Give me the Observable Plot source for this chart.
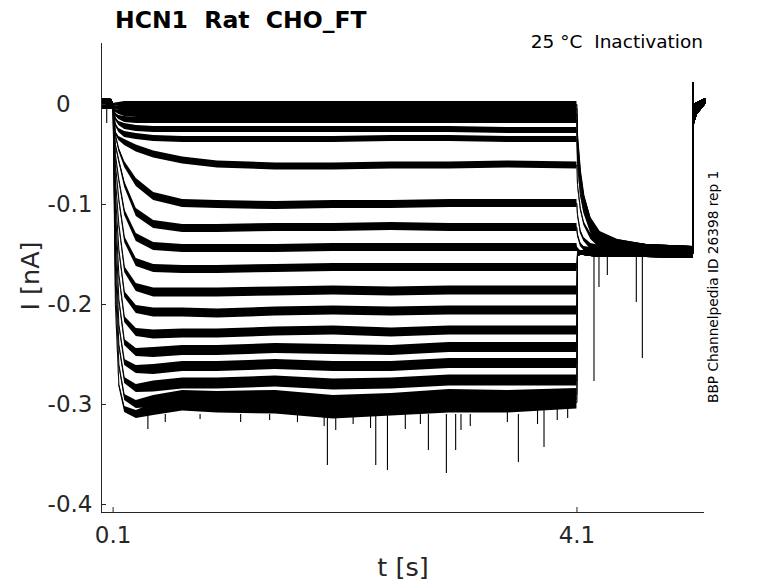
<!DOCTYPE html>
<html><head><meta charset="utf-8">
<script src="https://cdn.jsdelivr.net/npm/d3@7"></script>
<script src="https://cdn.jsdelivr.net/npm/@observablehq/plot@0.6"></script>
<style>body{margin:0;background:#fff} svg text{white-space:pre}</style>
</head><body><div id="chart"></div>
<script>
// ---- data ----
const xTicks = [0.1, 4.1];
const yTicks = [0, -0.1, -0.2, -0.3, -0.4];

// holding period before the step (shared by all sweeps)
const tPre = [0.003, 0.09];
const preV = [0.001, 0.0];
const preNoise = [0.005, 0.005];

// test-pulse period
const tStep = [0.1, 0.12, 0.15, 0.2, 0.3, 0.45, 0.7, 1.0, 1.5, 2.0, 2.5, 3.0, 3.5, 4.1];
const stepValues = [
  [0, 0.000, 0.000, 0.000, 0.000, 0.000, 0.000, 0.000, 0.000, 0.000, 0.000, 0.000, 0.000, 0.000],
  [0, -0.003, -0.004, -0.004, -0.004, -0.004, -0.004, -0.004, -0.004, -0.004, -0.004, -0.004, -0.004, -0.004],
  [0, -0.006, -0.008, -0.009, -0.010, -0.010, -0.010, -0.010, -0.010, -0.010, -0.010, -0.010, -0.010, -0.010],
  [0, -0.010, -0.013, -0.015, -0.016, -0.016, -0.016, -0.016, -0.016, -0.016, -0.016, -0.016, -0.016, -0.016],
  [0, -0.014, -0.019, -0.022, -0.024, -0.025, -0.025, -0.025, -0.025, -0.025, -0.025, -0.025, -0.026, -0.026],
  [0, -0.020, -0.026, -0.030, -0.032, -0.034, -0.035, -0.035, -0.035, -0.035, -0.034, -0.034, -0.035, -0.035],
  [0, -0.028, -0.034, -0.038, -0.044, -0.050, -0.056, -0.060, -0.062, -0.062, -0.061, -0.061, -0.060, -0.061],
  [0, -0.030, -0.045, -0.060, -0.078, -0.092, -0.099, -0.100, -0.101, -0.100, -0.100, -0.099, -0.099, -0.099],
  [0, -0.040, -0.056, -0.080, -0.108, -0.120, -0.124, -0.124, -0.123, -0.123, -0.122, -0.123, -0.123, -0.123],
  [0, -0.050, -0.075, -0.108, -0.133, -0.142, -0.144, -0.144, -0.144, -0.143, -0.143, -0.143, -0.143, -0.143],
  [0, -0.060, -0.095, -0.135, -0.158, -0.164, -0.165, -0.165, -0.164, -0.163, -0.163, -0.163, -0.163, -0.163],
  [0, -0.075, -0.120, -0.165, -0.183, -0.188, -0.188, -0.188, -0.187, -0.186, -0.187, -0.186, -0.186, -0.186],
  [0, -0.090, -0.145, -0.190, -0.205, -0.208, -0.208, -0.209, -0.207, -0.206, -0.207, -0.206, -0.206, -0.206],
  [0, -0.105, -0.170, -0.215, -0.228, -0.230, -0.229, -0.229, -0.227, -0.226, -0.228, -0.226, -0.226, -0.226],
  [0, -0.120, -0.195, -0.238, -0.248, -0.248, -0.246, -0.246, -0.244, -0.245, -0.246, -0.243, -0.243, -0.243],
  [0, -0.140, -0.220, -0.258, -0.265, -0.265, -0.262, -0.262, -0.260, -0.262, -0.262, -0.259, -0.259, -0.259],
  [0, -0.160, -0.240, -0.276, -0.284, -0.282, -0.279, -0.279, -0.277, -0.280, -0.279, -0.276, -0.276, -0.276],
  [0, -0.180, -0.260, -0.293, -0.300, -0.297, -0.292, -0.293, -0.292, -0.297, -0.295, -0.291, -0.292, -0.290],
  [0, -0.200, -0.280, -0.305, -0.310, -0.305, -0.300, -0.302, -0.303, -0.308, -0.305, -0.302, -0.302, -0.298]
];
const stepNoise = [0.003, 0.003, 0.003, 0.003, 0.003, 0.003, 0.0035, 0.004, 0.004, 0.004, 0.004,
                   0.0045, 0.0045, 0.0045, 0.005, 0.005, 0.0055, 0.006, 0.0065];
const rampNoise = [0.001, 0.0015, 0.002, 0.003, 0.004, 0.006, 0.01, 0.01, 0.01, 0.01, 0.01, 0.01, 0.01, 0.01];

// tail period after the pulse
const tTail = [4.105, 4.13, 4.16, 4.22, 4.3, 4.45, 4.7, 5.1];
const tailValues = [
  [-0.030, -0.066, -0.091, -0.116, -0.131, -0.140, -0.145, -0.147],
  [-0.034, -0.069, -0.093, -0.117, -0.132, -0.140, -0.145, -0.147],
  [-0.039, -0.073, -0.096, -0.119, -0.133, -0.141, -0.145, -0.147],
  [-0.044, -0.077, -0.099, -0.121, -0.134, -0.141, -0.145, -0.147],
  [-0.051, -0.083, -0.103, -0.123, -0.135, -0.142, -0.145, -0.147],
  [-0.059, -0.089, -0.107, -0.126, -0.137, -0.142, -0.146, -0.147],
  [-0.080, -0.104, -0.119, -0.132, -0.140, -0.144, -0.146, -0.147],
  [-0.110, -0.127, -0.135, -0.142, -0.145, -0.146, -0.147, -0.147],
  [-0.130, -0.140, -0.144, -0.146, -0.147, -0.147, -0.147, -0.147],
  [-0.145, -0.148, -0.148, -0.148, -0.148, -0.148, -0.147, -0.148],
  [-0.150, -0.149, -0.149, -0.149, -0.149, -0.148, -0.148, -0.149],
  [-0.150, -0.149, -0.149, -0.149, -0.149, -0.148, -0.148, -0.149],
  [-0.150, -0.149, -0.149, -0.149, -0.149, -0.148, -0.148, -0.149],
  [-0.150, -0.149, -0.149, -0.149, -0.149, -0.148, -0.148, -0.149],
  [-0.150, -0.149, -0.149, -0.149, -0.149, -0.148, -0.148, -0.149],
  [-0.150, -0.149, -0.149, -0.149, -0.149, -0.148, -0.148, -0.149],
  [-0.150, -0.149, -0.149, -0.149, -0.149, -0.148, -0.148, -0.149],
  [-0.150, -0.149, -0.149, -0.149, -0.149, -0.148, -0.148, -0.149],
  [-0.150, -0.149, -0.149, -0.149, -0.149, -0.148, -0.148, -0.149]
];
const tailNoise = [0.002, 0.002, 0.002, 0.003, 0.004, 0.005, 0.005, 0.005];

// return to holding (shared)
const tEnd = [5.1, 5.102, 5.14, 5.21];
const endV = [0.022, -0.012, -0.004, 0.003];
const endNoise = [0.001, 0.012, 0.006, 0.003];

// isolated spikes: time, start level, tip level
const spikeT   = [0.045, 0.4, 0.55, 0.85, 1.2, 1.45, 1.69, 1.92, 1.948, 2.02, 2.17, 2.32, 2.365, 2.466, 2.62,
                  2.75, 2.819, 2.974, 3.054, 3.1, 3.18, 3.5, 3.595, 3.76, 3.816, 3.93, 4.02,
                  4.247, 4.290, 4.362, 4.612, 4.664];
const spikeTop = [0.000, -0.31, -0.31, -0.31, -0.31, -0.31, -0.31, -0.31, -0.31, -0.31, -0.31, -0.31, -0.31, -0.31, -0.31,
                  -0.31, -0.31, -0.31, -0.31, -0.31, -0.31, -0.30, -0.31, -0.30, -0.30, -0.30, -0.30,
                  -0.15, -0.15, -0.15, -0.15, -0.15];
const spikeTip = [-0.019, -0.325, -0.318, -0.315, -0.318, -0.316, -0.318, -0.322, -0.361, -0.326, -0.32, -0.324, -0.361, -0.366, -0.325,
                  -0.32, -0.346, -0.369, -0.346, -0.326, -0.322, -0.318, -0.358, -0.32, -0.343, -0.316, -0.314,
                  -0.277, -0.183, -0.171, -0.198, -0.254];

// ---- build table ----
const rows = [];
stepValues.forEach((sv, i) => {
  tPre.forEach((t, j) => rows.push({trace: i, t, v: preV[j], n: preNoise[j]}));
  tStep.forEach((t, j) => rows.push({trace: i, t, v: sv[j], n: Math.min(stepNoise[i], rampNoise[j])}));
  tTail.forEach((t, j) => rows.push({trace: i, t, v: tailValues[i][j], n: tailNoise[j]}));
  tEnd.forEach((t, j) => rows.push({trace: i, t, v: endV[j], n: endNoise[j]}));
});
const spikes = spikeT.map((t, i) => ({t, top: spikeTop[i], tip: spikeTip[i]}));

const axisColor = "#262626";
const svg = Plot.plot({
  width: 778, height: 583,
  marginLeft: 101, marginRight: 74, marginTop: 43, marginBottom: 71,
  x: {domain: [0, 5.2]},
  y: {domain: [-0.408, 0.061]},
  style: {fontFamily: "DejaVu Sans", fontSize: "23px", color: axisColor, background: "white"},
  marks: [
    Plot.areaY(rows, {x: "t", y1: d => d.v - d.n, y2: d => d.v + d.n, z: "trace", fill: "black"}),
    Plot.line(rows, {x: "t", y: "v", z: "trace", stroke: "black", strokeWidth: 1}),
    Plot.ruleX(spikes, {x: "t", y1: "top", y2: "tip", stroke: "black", strokeWidth: 1.1}),
    Plot.ruleX([0], {stroke: axisColor, strokeWidth: 1}),
    Plot.ruleY([-0.408], {stroke: axisColor, strokeWidth: 1}),
    Plot.axisX(xTicks, {tickSize: -5, tickPadding: 19, label: null, tickFormat: d => d.toFixed(1), stroke: axisColor, fill: axisColor}),
    Plot.axisY(yTicks, {tickSize: -5, tickPadding: 14, label: null,
      tickFormat: d => d === 0 ? "0\u2008\u2007" : d.toFixed(1), stroke: axisColor, fill: axisColor})
  ]
});

const s = d3.select(svg);
s.append("text").attr("x", 115).attr("y", 28).attr("text-anchor", "start")
  .attr("font-family", "DejaVu Sans").attr("font-weight", "bold").attr("font-size", 23.5)
  .attr("fill", "black").text("HCN1  Rat  CHO_FT");
s.append("text").attr("x", 703).attr("y", 48).attr("text-anchor", "end")
  .attr("font-family", "DejaVu Sans").attr("font-size", 18.5).attr("fill", "black")
  .text("25 °C  Inactivation");
s.append("text").attr("transform", "translate(718,403) rotate(-90)").attr("text-anchor", "start")
  .attr("font-family", "DejaVu Sans").attr("font-size", 13.7).attr("fill", "black")
  .text("BBP Channelpedia ID 26398 rep 1");
s.append("text").attr("x", 403).attr("y", 576).attr("text-anchor", "middle")
  .attr("font-family", "DejaVu Sans").attr("font-size", 25.5).attr("fill", axisColor)
  .text("t [s]");
s.append("text").attr("transform", "translate(39,276) rotate(-90)").attr("text-anchor", "middle")
  .attr("font-family", "DejaVu Sans").attr("font-size", 25.5).attr("fill", axisColor)
  .text("I [nA]");

document.getElementById("chart").appendChild(svg);
</script>
</body></html>
